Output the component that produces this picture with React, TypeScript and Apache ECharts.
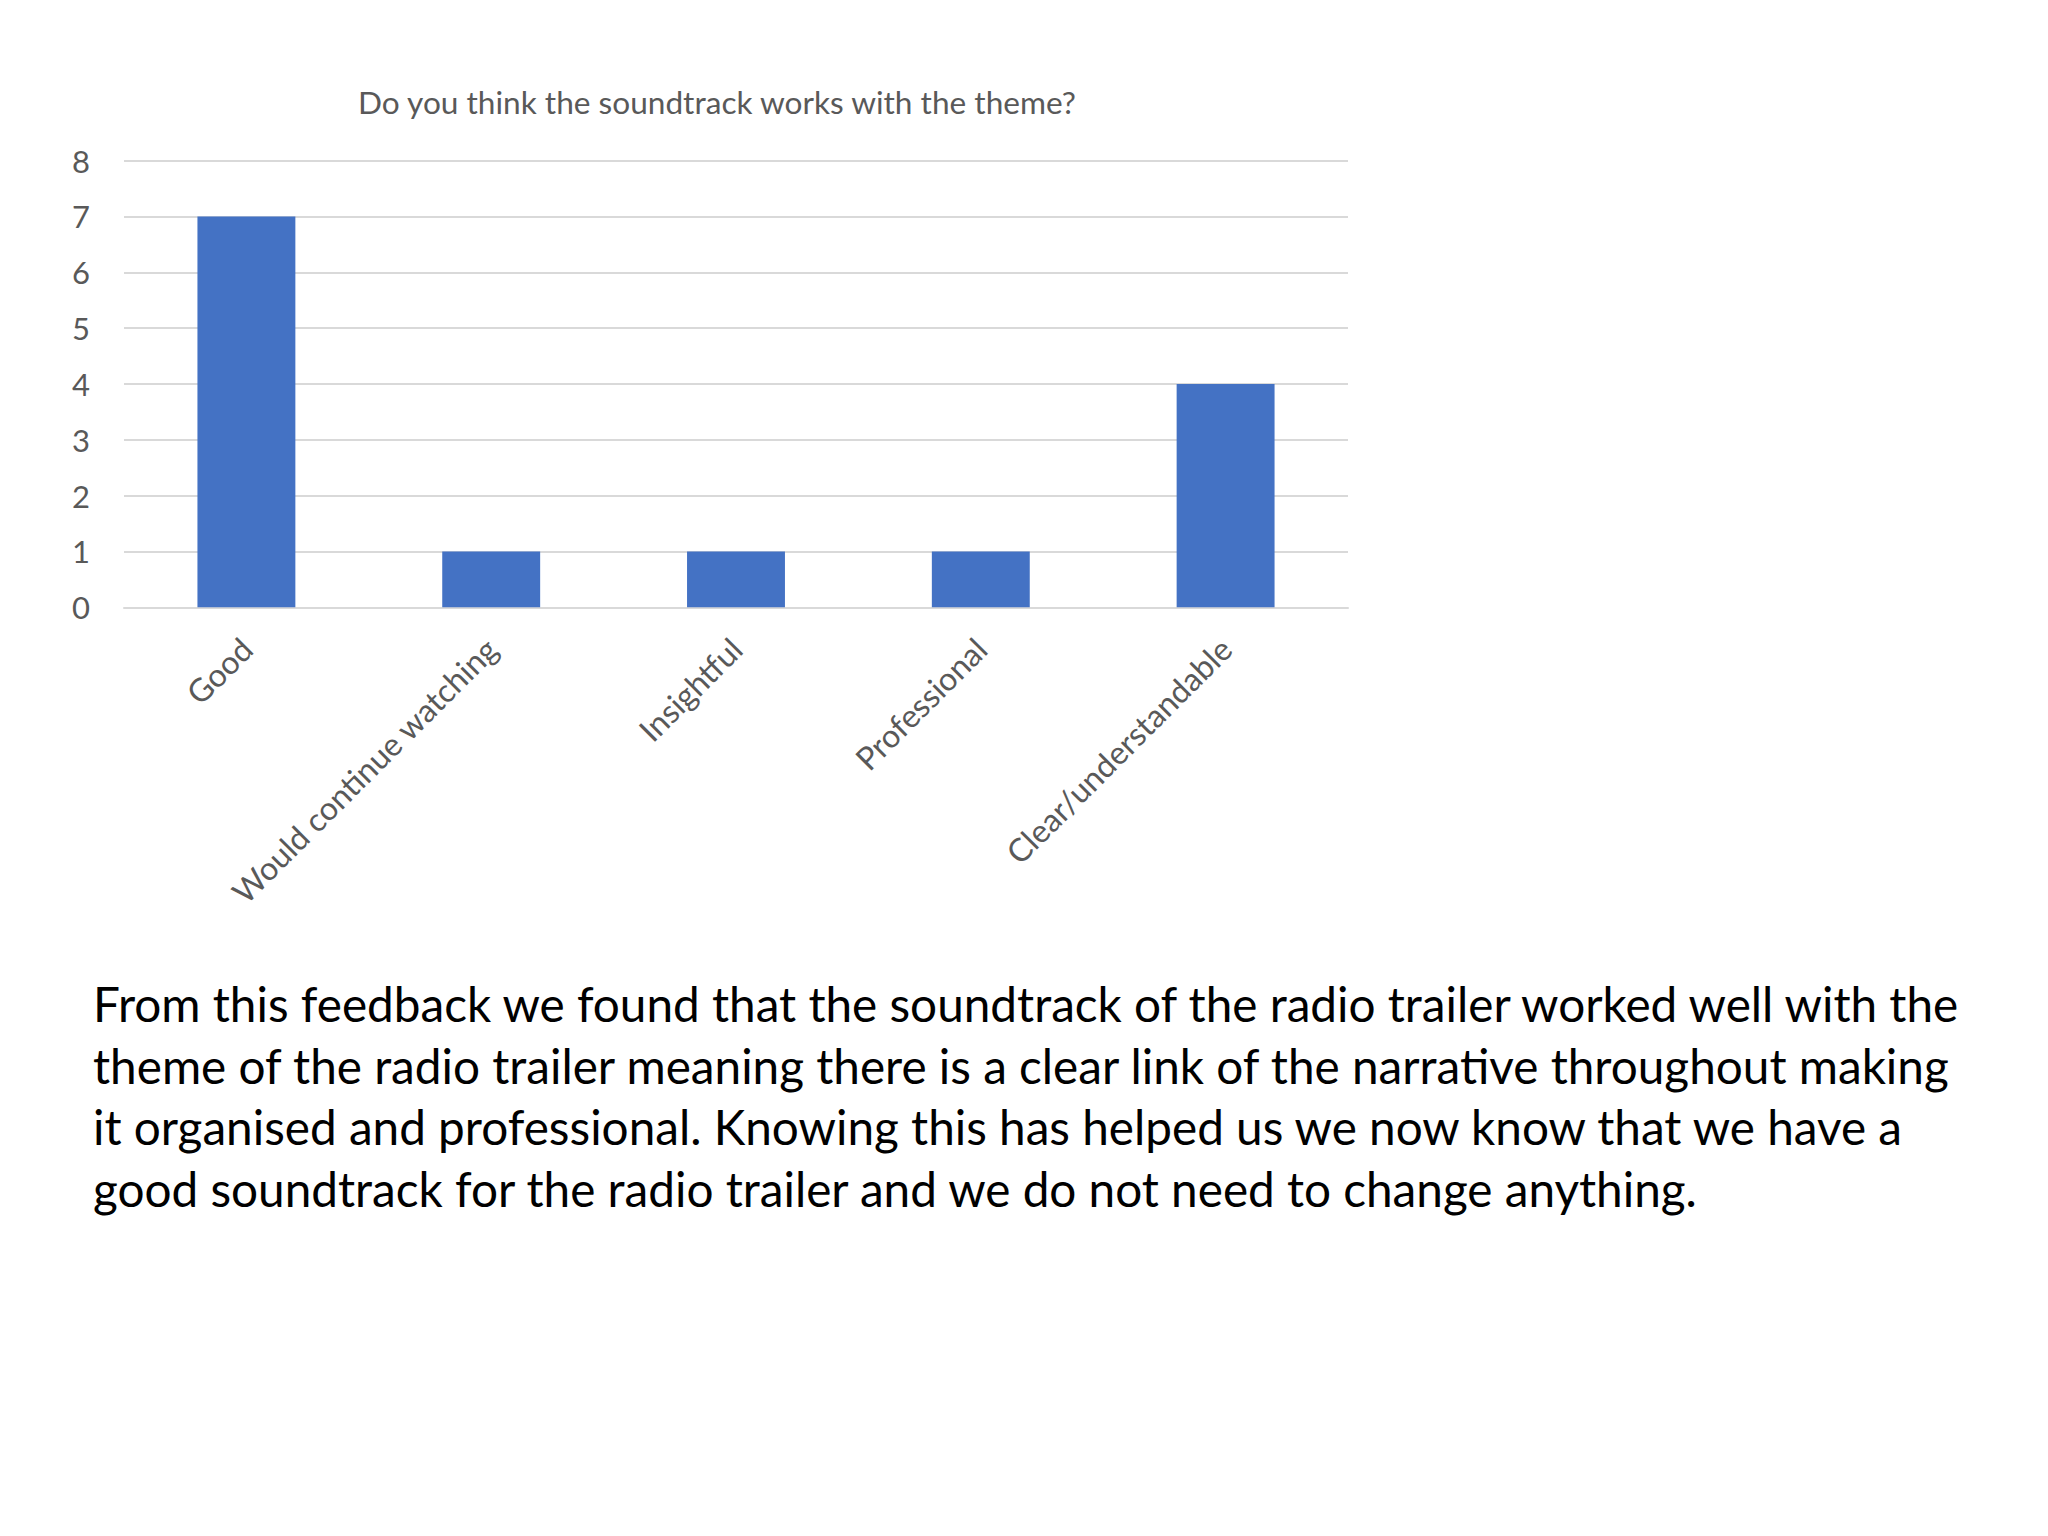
import React, { useEffect, useRef } from "react";
import * as echarts from "echarts";

const chartTitle = "Do you think the soundtrack works with the theme?";
const categories = [
  "Good",
  "Would continue watching",
  "Insightful",
  "Professional",
  "Clear/understandable",
];
const counts = [7, 1, 1, 1, 4];
const yTicks = { min: 0, max: 8, interval: 1 };
const paragraphLines = [
  "From this feedback we found that the soundtrack of the radio trailer worked well with the",
  "theme of the radio trailer meaning there is a clear link of the narrative throughout making",
  "it organised and professional. Knowing this has helped us we now know that we have a",
  "good soundtrack for the radio trailer and we do not need to change anything.",
];

const FONT = "Lato, 'Open Sans', sans-serif";

export default function App() {
  const ref = useRef<HTMLDivElement>(null);
  useEffect(() => {
    if (!ref.current) return;
    const chart = echarts.init(ref.current, undefined, { renderer: "svg" });
    chart.setOption({
      animation: false,
      backgroundColor: "#ffffff",
      textStyle: { fontFamily: FONT },
      grid: { left: 124, right: 700, top: 160.6, bottom: 928.7, containLabel: false },
      xAxis: {
        type: "category",
        data: categories,
        axisLine: { lineStyle: { color: "#D9D9D9", width: 2 } },
        axisTick: { show: false },
        axisLabel: {
          rotate: 45,
          margin: 36,
          color: "#595959",
          fontSize: 32,
          fontFamily: FONT,
          interval: 0,
        },
      },
      yAxis: {
        type: "value",
        min: yTicks.min,
        max: yTicks.max,
        interval: yTicks.interval,
        axisLine: { show: false },
        axisTick: { show: false },
        splitLine: { lineStyle: { color: "#D9D9D9", width: 2 } },
        axisLabel: { color: "#595959", fontSize: 31, margin: 34, fontFamily: FONT },
      },
      series: [
        {
          type: "bar",
          data: counts,
          barCategoryGap: "60%",
          itemStyle: { color: "#4472C4" },
        },
      ],
      graphic: [
        {
          type: "text",
          x: 717,
          y: 102,
          style: {
            text: chartTitle,
            align: "center",
            verticalAlign: "middle",
            fontSize: 31.6,
            fill: "#595959",
            fontFamily: FONT,
          },
        },
        {
          type: "text",
          x: 93,
          y: 973,
          style: {
            text: paragraphLines.join("\n"),
            align: "left",
            verticalAlign: "top",
            fontSize: 47.7,
            lineHeight: 61.5,
            fill: "#000000",
            fontFamily: FONT,
          },
        },
      ],
    });
    return () => chart.dispose();
  }, []);
  return (
    <div
      ref={ref}
      style={{ position: "absolute", left: 0, top: 0, width: 2048, height: 1536, background: "#fff" }}
    />
  );
}
